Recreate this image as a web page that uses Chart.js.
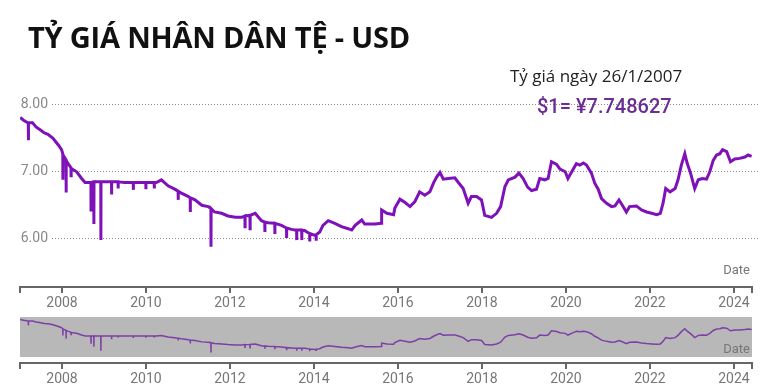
<!DOCTYPE html>
<html>
<head>
<meta charset="utf-8">
<script src="https://cdn.jsdelivr.net/npm/chart.js@4.4.1/dist/chart.umd.min.js"></script>
<style>
  html, body { margin: 0; padding: 0; background: #fff; }
  body { width: 766px; height: 389px; position: relative; overflow: hidden; }
  .abs { position: absolute; white-space: nowrap; }
  #title { left: 28px; top: 17px; font: 700 29px "Open Sans", sans-serif; color: #111; letter-spacing: -0.2px; }
  #note1 { left: 510px; top: 64px; font: 400 17px "Open Sans", sans-serif; color: #222; }
  #note2 { left: 537px; top: 94px; font: 500 20px Roboto, sans-serif; color: #6b2d92; }
  .axt { font: 400 13px Roboto, sans-serif; color: #777; text-align: right; }
  #mainWrap { left: 0; top: 0; width: 766px; height: 320px; }
  #navWrap { left: 0; top: 300px; width: 766px; height: 89px; }
</style>
</head>
<body>
<div id="mainWrap" class="abs"><canvas id="mainChart"></canvas></div>
<div id="navWrap" class="abs"><canvas id="navChart"></canvas></div>
<div id="title" class="abs">TỶ GIÁ NHÂN DÂN TỆ - USD</div>
<div id="note1" class="abs">Tỷ giá ngày 26/1/2007</div>
<div id="note2" class="abs">$1= ¥7.748627</div>
<div class="abs axt" style="right:16px; top:262px;">Date</div>
<div class="abs axt" style="right:16px; top:341px;">Date</div>
<script>
// CNY per USD (spikes kept as their own dated points)
const dates = [
  '2007-01-03','2007-02-01','2007-03-01','2007-03-14','2007-03-15','2007-03-16','2007-04-20','2007-05-20',
  '2007-07-01','2007-08-01','2007-09-01','2007-10-15','2007-11-30','2007-12-28',
  '2008-01-08','2008-01-09','2008-01-10','2008-02-05','2008-02-06','2008-02-07','2008-02-20',
  '2008-03-19','2008-03-20','2008-03-21','2008-05-08','2008-06-20','2008-07-20','2008-08-20',
  '2008-09-09','2008-09-10','2008-09-11','2008-10-04','2008-10-05','2008-10-06','2008-11-01',
  '2008-12-04','2008-12-05','2008-12-06','2009-01-01','2009-03-07','2009-03-08','2009-03-09',
  '2009-04-01','2009-05-03','2009-05-04','2009-05-05','2009-07-01','2009-09-12','2009-09-13','2009-09-14',
  '2009-10-01','2009-12-30','2009-12-31','2010-01-01','2010-03-13','2010-03-14','2010-03-15','2010-04-01',
  '2010-05-15','2010-07-12','2010-09-08','2010-10-07','2010-10-08','2010-10-09','2010-11-05',
  '2011-01-05','2011-01-20','2011-01-21','2011-01-22','2011-03-03','2011-05-01','2011-06-25',
  '2011-07-19','2011-07-20','2011-07-21','2011-08-20','2011-10-20','2011-12-15','2012-02-15',
  '2012-04-12','2012-05-10','2012-05-11','2012-05-12','2012-06-23','2012-06-24','2012-06-25','2012-08-08',
  '2012-10-01','2012-10-30','2012-10-31','2012-11-01','2012-11-28','2013-01-25','2013-01-26','2013-01-27',
  '2013-03-25','2013-05-07','2013-05-08','2013-05-09','2013-06-20','2013-07-20','2013-08-03','2013-08-04','2013-08-05',
  '2013-09-16','2013-09-17','2013-09-18','2013-10-15','2013-11-10','2013-11-24','2013-11-25','2013-11-26',
  '2014-01-08','2014-01-19','2014-01-20','2014-01-21','2014-02-20','2014-03-20','2014-05-05','2014-07-01',
  '2014-08-28','2014-10-26','2014-11-25','2014-12-25','2015-02-20','2015-03-18','2015-06-15',
  '2015-08-10','2015-08-12','2015-09-27','2015-11-24','2015-12-05','2016-01-18','2016-03-03',
  '2016-04-15','2016-05-26','2016-07-08','2016-08-22','2016-10-05','2016-11-05','2016-12-03',
  '2017-01-01','2017-01-30','2017-03-15','2017-05-10','2017-06-10','2017-07-22','2017-09-03',
  '2017-10-01','2017-11-15','2017-12-28','2018-01-25','2018-03-25','2018-05-08','2018-06-12',
  '2018-07-20','2018-08-18','2018-10-15','2018-11-18','2018-12-25','2019-02-02','2019-03-08',
  '2019-04-20','2019-05-18','2019-07-01','2019-07-30','2019-08-28','2019-10-12','2019-11-10',
  '2019-12-26','2020-01-18','2020-03-05','2020-04-01','2020-05-01','2020-06-01','2020-06-28',
  '2020-08-10','2020-09-08','2020-10-08','2020-11-06','2020-12-20','2021-02-02','2021-03-03',
  '2021-04-07','2021-05-10','2021-06-10','2021-07-08','2021-09-05','2021-10-20','2021-12-03',
  '2022-01-15','2022-03-01','2022-04-01','2022-04-25','2022-05-18','2022-06-25','2022-08-08',
  '2022-09-02','2022-10-01','2022-10-31','2022-11-20','2022-12-20','2023-01-25','2023-02-25',
  '2023-04-01','2023-05-08','2023-06-05','2023-07-05','2023-08-03','2023-09-01','2023-09-24',
  '2023-10-30','2023-12-02','2024-01-08','2024-02-20','2024-04-05','2024-05-04','2024-06-03'
];
const rates = [
  7.80,7.76,7.73,7.72,7.46,7.72,7.72,7.66,
  7.61,7.57,7.55,7.49,7.39,7.32,
  7.26,6.87,7.24,7.17,6.68,7.16,7.12,
  7.05,6.93,7.04,6.99,6.89,6.83,6.83,
  6.83,6.42,6.83,6.84,6.21,6.84,6.84,
  6.84,5.97,6.84,6.84,6.84,6.65,6.84,
  6.84,6.84,6.74,6.84,6.83,6.83,6.72,6.83,
  6.83,6.83,6.73,6.83,6.83,6.74,6.83,6.83,
  6.87,6.78,6.73,6.70,6.57,6.70,6.67,
  6.62,6.60,6.39,6.60,6.57,6.49,6.47,
  6.44,5.87,6.44,6.39,6.37,6.33,6.31,
  6.31,6.33,6.17,6.33,6.34,6.14,6.34,6.37,
  6.26,6.24,6.09,6.24,6.23,6.22,6.06,6.22,
  6.19,6.15,6.00,6.15,6.13,6.12,6.12,5.97,6.12,
  6.12,5.97,6.12,6.11,6.08,6.07,5.95,6.07,
  6.04,6.05,5.96,6.05,6.09,6.19,6.26,6.22,
  6.17,6.14,6.12,6.19,6.27,6.21,6.21,
  6.22,6.42,6.37,6.35,6.45,6.58,6.53,
  6.47,6.54,6.69,6.64,6.69,6.82,6.91,
  6.98,6.88,6.89,6.90,6.83,6.74,6.52,
  6.62,6.62,6.57,6.34,6.31,6.37,6.47,
  6.77,6.87,6.91,6.97,6.89,6.76,6.71,
  6.73,6.89,6.87,6.89,7.14,7.10,7.03,
  6.99,6.89,7.03,7.11,7.09,7.12,7.09,
  6.97,6.82,6.73,6.59,6.52,6.47,6.48,
  6.57,6.48,6.39,6.47,6.48,6.42,6.39,
  6.37,6.35,6.37,6.52,6.74,6.69,6.74,
  6.87,7.09,7.26,7.12,6.97,6.74,6.87,
  6.89,6.88,6.99,7.16,7.24,7.26,7.32,
  7.29,7.14,7.18,7.19,7.21,7.24,7.22
];
const yTicks = [6, 7, 8];
const xTicks = [2008, 2010, 2012, 2014, 2016, 2018, 2020, 2022, 2024];

function toYear(d) {
  const t = new Date(d + 'T00:00:00Z');
  const y = t.getUTCFullYear();
  const a = Date.UTC(y, 0, 1), b = Date.UTC(y + 1, 0, 1);
  return y + (t.getTime() - a) / (b - a);
}
const points = dates.map((d, i) => ({ x: toYear(d), y: rates[i] }));
const xMin = 2007.0, xMax = 2024.43;

const tickFont = { family: 'Roboto', size: 14 };
const xAxis = (height) => ({
  type: 'linear', min: xMin, max: xMax,
  afterFit: s => { s.height = height; },
  afterBuildTicks: s => { s.ticks = [xMin, ...xTicks, xMax].map(v => ({ value: v })); },
  border: { display: true, color: '#666', width: 2 },
  grid: { drawOnChartArea: false, tickLength: 6, color: '#666', lineWidth: 2 },
  ticks: {
    autoSkip: false, maxRotation: 0, padding: 2,
    color: '#777', font: tickFont,
    callback: v => xTicks.includes(v) ? String(v) : ''
  }
});

// dotted grid + value labels drawn from the y scale
const yGrid = {
  id: 'yGrid',
  beforeDatasetsDraw(chart) {
    const { ctx, scales: { y } } = chart;
    ctx.save();
    ctx.strokeStyle = '#8a8a8a';
    ctx.lineWidth = 1;
    ctx.setLineDash([1, 2]);
    ctx.fillStyle = '#888';
    ctx.font = '400 14px Roboto';
    ctx.textAlign = 'right';
    ctx.textBaseline = 'middle';
    yTicks.forEach(v => {
      const py = Math.round(y.getPixelForValue(v)) + 0.5;
      ctx.beginPath();
      ctx.moveTo(52, py);
      ctx.lineTo(760, py);
      ctx.stroke();
      ctx.fillText(v.toFixed(2), 48, py);
    });
    ctx.restore();
  }
};

// grey band behind the navigator series
const navBand = {
  id: 'navBand',
  beforeDatasetsDraw(chart) {
    const { ctx, chartArea: a, scales: { y } } = chart;
    ctx.save();
    ctx.fillStyle = '#b8b8b8';
    const top = y.getPixelForValue(7.95), bot = y.getPixelForValue(5.6);
    ctx.fillRect(a.left, top, a.right - a.left, bot - top);
    ctx.restore();
  }
};

new Chart(document.getElementById('mainChart'), {
  type: 'line',
  data: { datasets: [{ data: points, borderColor: '#7e12b8', borderWidth: 3, pointRadius: 0, tension: 0 }] },
  options: {
    responsive: true, maintainAspectRatio: false, animation: false,
    layout: { padding: { left: 20, right: 14, top: 84, bottom: 3 } },
    plugins: { legend: { display: false }, tooltip: { enabled: false } },
    scales: {
      x: xAxis(30),
      y: { display: false, min: 5.27, max: 8.3 }
    }
  },
  plugins: [yGrid]
});

new Chart(document.getElementById('navChart'), {
  type: 'line',
  data: { datasets: [{ data: points, borderColor: '#7c3fa6', borderWidth: 1.5, pointRadius: 0, tension: 0 }] },
  options: {
    responsive: true, maintainAspectRatio: false, animation: false,
    layout: { padding: { left: 20, right: 14, top: 17, bottom: 0 } },
    plugins: { legend: { display: false }, tooltip: { enabled: false } },
    scales: {
      x: xAxis(26),
      y: { display: false, min: 5.25, max: 7.95 }
    }
  },
  plugins: [navBand]
});
</script>
</body>
</html>
